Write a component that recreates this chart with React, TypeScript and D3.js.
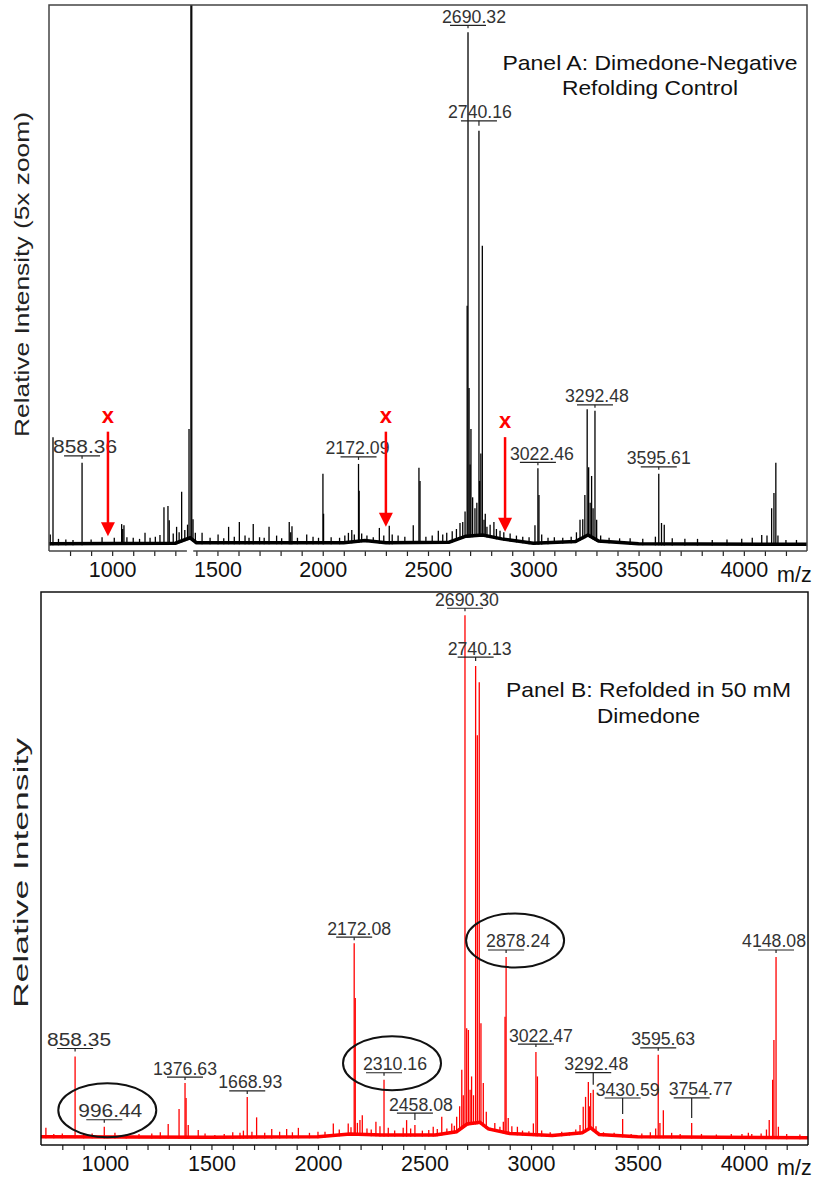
import React, { useEffect, useRef } from 'react';
import * as d3 from 'd3';

const W = 817;
const H = 1181;

// shared m/z range and axis labels
const mzDomain = [700, 4300];
const tickLabels = [1000, 1500, 2000, 2500, 3000, 3500, 4000];

// Panel A (black, 5x zoom): [m/z, relative intensity]
const peaksA = [
  [706, 3.2], [719, 21], [745, 2.4], [780, 2.3], [814, 2.2], [857, 16.3], [900, 2.3], [952, 2.7],
  [1010, 2.6], [1045, 5.1], [1050, 4.2], [1056, 4.9], [1070, 2.7], [1100, 2.6], [1130, 2.4],
  [1156, 3.5], [1180, 2.6], [1205, 2.8], [1227, 3.1], [1246, 8.2], [1265, 8.4], [1271, 5.8],
  [1290, 3.4], [1306, 4.6], [1318, 3.6], [1330, 11], [1345, 4], [1358, 5], [1365, 22.5],
  [1374, 130], [1378, 130], [1384, 6], [1395, 3.5], [1427, 3.5], [1465, 2.6], [1503, 3.2],
  [1530, 2.5], [1553, 4.6], [1580, 2.8], [1604, 5.5], [1631, 3], [1650, 2.6], [1670, 5.1],
  [1700, 2.7], [1722, 2.6], [1745, 4.6], [1781, 3], [1805, 2.5], [1841, 5.5], [1848, 3.6],
  [1854, 4.7], [1880, 2.6], [1924, 3.2], [1954, 2.8], [1980, 2.6], [2001, 14.3], [2004, 7],
  [2040, 2.7], [2080, 2.6], [2105, 3], [2122, 3.5], [2138, 4], [2150, 3.2], [2170, 16.1],
  [2173, 11.2], [2185, 3.4], [2210, 3], [2240, 2.7], [2269, 4.4], [2290, 3], [2316, 4.8],
  [2330, 3.2], [2358, 3], [2390, 2.8], [2430, 4.9], [2457, 15.4], [2462, 13], [2490, 2.8],
  [2520, 3], [2549, 3.9], [2570, 3.2], [2589, 3.5], [2615, 3.8], [2635, 4.2], [2652, 5.3],
  [2665, 5.5], [2676, 7.4], [2686, 45], [2690, 95], [2695, 30], [2700, 16], [2704, 22.5],
  [2712, 10], [2723, 8], [2732, 9], [2742, 77], [2745, 13], [2751, 18], [2758, 56],
  [2766, 5.9], [2772, 7], [2780, 4.6], [2795, 5], [2813, 5.5], [2825, 4.2], [2842, 3.9],
  [2860, 3.6], [2890, 3.4], [2920, 3], [2950, 2.8], [2980, 2.7], [3008, 4.9], [3022, 15.3],
  [3027, 10.4], [3040, 3.2], [3070, 2.6], [3100, 2.7], [3140, 2.6], [3180, 2.8], [3205, 3.6],
  [3222, 5.9], [3235, 6], [3245, 10.4], [3256, 26.1], [3263, 15.5], [3270, 9], [3277, 13.9],
  [3284, 8], [3293, 25.8], [3301, 5.9], [3320, 3], [3360, 2.6], [3410, 2.5], [3460, 2.5],
  [3520, 2.4], [3580, 2.8], [3596, 14.3], [3609, 5.3], [3622, 5], [3660, 2.5], [3720, 2.4],
  [3780, 2.4], [3850, 2.2], [3920, 2.3], [3990, 2.4], [4040, 2.6], [4085, 3.1], [4110, 3],
  [4132, 8], [4143, 10.8], [4152, 16.3], [4162, 3], [4200, 2.2], [4250, 2.2],
];
const baselineA = [
  [700, 1.5], [1300, 1.6], [1370, 2.6], [1400, 1.7], [2100, 1.7], [2200, 2.1], [2300, 1.7],
  [2600, 1.8], [2680, 2.9], [2760, 3.1], [2850, 2.4], [3000, 1.6], [3200, 1.9], [3260, 3.1],
  [3310, 2], [3500, 1.5], [4300, 1.4],
];
const labelTextA = ['858.36', '2172.09', '2690.32', '2740.16', '3022.46', '3292.48', '3595.61'];
const labelMzA = [857, 2170, 2690, 2742, 3022, 3293, 3596];
// red arrows marking missing masses
const arrowMzA = [980, 2300, 2866];
const arrowTipA = [2.9, 4.6, 3.7];
const arrowTopA = [22, 22, 21];

// Panel B (red, 50 mM dimedone)
const peaksB = [
  [723, 3.1], [760, 2], [800, 2.1], [860, 16], [900, 2], [940, 2.1], [997, 3.3], [1047, 2.2],
  [1100, 1.9], [1160, 2], [1220, 2.1], [1260, 2.3], [1297, 3.8], [1348, 6.5], [1376, 11.2],
  [1381, 8.5], [1391, 3.6], [1438, 2.7], [1470, 2.1], [1516, 1.8], [1560, 2], [1600, 2.3],
  [1634, 2.2], [1650, 2.6], [1668, 8.7], [1690, 2.4], [1712, 5], [1750, 2.2], [1783, 2.9],
  [1820, 2.4], [1853, 2.9], [1880, 2.3], [1908, 3.1], [1960, 2.2], [2000, 2.4], [2033, 2.4],
  [2072, 3.9], [2100, 2.8], [2142, 3.9], [2155, 3.2], [2170, 36.5], [2175, 26.6], [2185, 4],
  [2197, 4.5], [2208, 5.4], [2230, 3], [2250, 2.8], [2272, 4.2], [2291, 3.4], [2310, 11.8],
  [2330, 3.1], [2360, 2.6], [2400, 3.1], [2416, 4.5], [2435, 3], [2455, 3.6], [2490, 2.6],
  [2520, 2.7], [2541, 3.3], [2560, 2.9], [2581, 5.1], [2605, 3], [2628, 3.9], [2640, 3.5],
  [2651, 5.1], [2665, 7], [2675, 13.6], [2682, 9], [2690, 95.8], [2698, 21.1], [2706, 20.8],
  [2714, 10], [2721, 12.4], [2730, 9], [2740, 86.6], [2748, 74.1], [2757, 83.7], [2765, 22],
  [2776, 11.2], [2790, 6], [2807, 3.1], [2830, 4], [2854, 3.3], [2870, 4.2], [2878, 23.2],
  [2883, 34], [2893, 4.9], [2910, 3.4], [2936, 3.3], [2960, 2.6], [2990, 2.5], [3011, 3.9],
  [3023, 16.8], [3030, 12.4], [3050, 2.6], [3090, 2.3], [3144, 2.4], [3180, 2.3], [3210, 2.8],
  [3230, 3.6], [3245, 6.9], [3256, 8.7], [3269, 11.4], [3275, 7], [3280, 9.4], [3292, 10],
  [3305, 3.4], [3340, 2.3], [3390, 2.2], [3430, 4.7], [3470, 2], [3520, 2.1], [3560, 2.3],
  [3585, 3], [3597, 16.3], [3605, 4], [3621, 6.3], [3660, 2.2], [3700, 2], [3754, 4],
  [3800, 2], [3870, 1.9], [3940, 2], [3990, 2], [4020, 2.2], [4036, 2], [4080, 2.1],
  [4105, 2.8], [4118, 4.5], [4134, 11.8], [4140, 19], [4150, 34], [4161, 3.3], [4200, 2],
  [4262, 1.9],
];
const baselineB = [
  [700, 1.5], [1500, 1.4], [2000, 1.5], [2150, 2.0], [2300, 1.8], [2550, 1.8], [2650, 2.4],
  [2700, 3.8], [2760, 4.1], [2800, 2.9], [2900, 2.1], [3100, 1.7], [3240, 2.2], [3280, 3.1],
  [3320, 1.9], [3500, 1.5], [4300, 1.3],
];
const labelTextB = [
  '858.35', '996.44', '1376.63', '1668.93', '2172.08', '2310.16', '2458.08', '2690.30',
  '2740.13', '2878.24', '3022.47', '3292.48', '3430.59', '3595.63', '3754.77', '4148.08',
];
const labelMzB = [860, 997, 1376, 1668, 2170, 2310, 2455, 2690, 2740, 2883, 3023, 3292, 3430, 3597, 3754, 4150];
const circledB = ['996.44', '2310.16', '2878.24'];

// label placement: [gap above peak top (px), horizontal text shift (px)]
const labelNudgeA = [[7, 3], [7, -1], [7, 6], [10, 1], [6, 4], [6, 2], [7, 0]];
const labelNudgeB = [
  [8, 4], [7, 6], [6, 0], [6, 3], [6, 5], [7, 11], [12, 6], [7, 2],
  [9, 4], [7, 12], [8, 5], [17, 3], [21, 5], [7, 5], [25, 9], [7, -2],
];

const FONT = '"Liberation Sans", Arial, Helvetica, sans-serif';

const panels = [
  {
    id: 'A', left: 49, right: 807, top: 5, bottom: 551, zero: 552, color: '#000', frame: '#444',
    peaks: peaksA, baseline: baselineA, labels: labelTextA, labelMz: labelMzA, nudge: labelNudgeA,
    axisBreak: [1355, 1385], mzBase: 582,
    title: [['Panel A: Dimedone-Negative', 70, 295], ['Refolding Control', 95, 176]], titleX: 650,
    yLabel: 'Relative Intensity (5x zoom)', yLabelX: 29, yLabelY: 274.5, yLabelLen: 325,
  },
  {
    id: 'B', left: 41, right: 808, top: 592, bottom: 1145, zero: 1145, color: '#ff0000', frame: '#111',
    peaks: peaksB, baseline: baselineB, labels: labelTextB, labelMz: labelMzB, nudge: labelNudgeB,
    axisBreak: null, mzBase: 1175,
    title: [['Panel B: Refolded in 50 mM', 697, 285], ['Dimedone', 723, 103]], titleX: 648.5,
    yLabel: 'Relative Intensity', yLabelX: 28, yLabelY: 873, yLabelLen: 270,
  },
];

function drawPanel(svg, p) {
  const x = d3.scaleLinear().domain(mzDomain).range([p.left, p.right]);
  const y = d3.scaleLinear().domain([0, 100]).range([p.zero, p.top]);
  const base = d3.scaleLinear()
    .domain(p.baseline.map(d => d[0]))
    .range(p.baseline.map(d => d[1]))
    .clamp(true);

  const clipId = 'clip' + p.id;
  svg.append('clipPath').attr('id', clipId)
    .append('rect')
    .attr('x', p.left).attr('y', p.top)
    .attr('width', p.right - p.left).attr('height', p.bottom - p.top - 2);

  const plot = svg.append('g').attr('clip-path', `url(#${clipId})`);

  // noise band
  plot.append('path')
    .datum(p.baseline)
    .attr('d', d3.line().x(d => x(d[0])).y(d => y(d[1])))
    .attr('fill', 'none')
    .attr('stroke', p.color)
    .attr('stroke-width', 3.5);

  // peaks
  plot.selectAll('line.peak')
    .data(p.peaks)
    .enter().append('line')
    .attr('class', 'peak')
    .attr('x1', d => x(d[0])).attr('x2', d => x(d[0]))
    .attr('y1', d => y(base(d[0])) + 1.5).attr('y2', d => y(d[1]))
    .attr('stroke', p.color)
    .attr('stroke-width', 1.3);

  // frame (left, top, right)
  svg.append('path')
    .attr('d', `M${p.left},${p.bottom}V${p.top}H${p.right}V${p.bottom}`)
    .attr('fill', 'none')
    .attr('stroke', p.frame)
    .attr('stroke-width', 1.5);

  // bottom axis
  const minor = x.ticks(36).filter(t => t > mzDomain[0] && t < mzDomain[1]);
  const axis = svg.append('g')
    .attr('transform', `translate(0,${p.bottom})`)
    .call(d3.axisBottom(x).tickValues(minor).tickSize(5).tickSizeOuter(0).tickPadding(6)
      .tickFormat(d => (tickLabels.includes(d) ? String(d) : '')));
  axis.select('.domain').remove();
  axis.selectAll('line').attr('stroke', '#222').attr('stroke-width', 1.2);
  axis.selectAll('text')
    .attr('font-family', FONT).attr('font-size', 21.5).attr('fill', '#111');

  const segs = p.axisBreak
    ? [[mzDomain[0], p.axisBreak[0]], [p.axisBreak[1], mzDomain[1]]]
    : [mzDomain];
  segs.forEach(s => {
    svg.append('line')
      .attr('x1', x(s[0])).attr('x2', x(s[1]))
      .attr('y1', p.bottom).attr('y2', p.bottom)
      .attr('stroke', p.frame).attr('stroke-width', 1.5);
  });

  svg.append('text')
    .attr('x', 777).attr('y', p.mzBase)
    .attr('font-family', FONT).attr('font-size', 21.5).attr('fill', '#111')
    .text('m/z');

  // y label
  svg.append('text')
    .attr('transform', `translate(${p.yLabelX},${p.yLabelY}) rotate(-90)`)
    .attr('text-anchor', 'middle')
    .attr('font-family', FONT).attr('font-size', 20.5).attr('fill', '#222')
    .attr('textLength', p.yLabelLen).attr('lengthAdjust', 'spacingAndGlyphs')
    .text(p.yLabel);

  // title
  p.title.forEach(([t, by, len]) => {
    svg.append('text')
      .attr('x', p.titleX).attr('y', by)
      .attr('text-anchor', 'middle')
      .attr('font-family', FONT).attr('font-size', 21).attr('fill', '#111')
      .attr('textLength', len).attr('lengthAdjust', 'spacingAndGlyphs')
      .text(t);
  });

  // peak labels
  p.labels.forEach((t, i) => {
    const mz = p.labelMz[i];
    const pk = p.peaks.reduce((b, d) => (Math.abs(d[0] - mz) < Math.abs(b[0] - mz) ? d : b));
    const px = x(mz);
    const top = y(pk[1]);
    const [gap, dx] = p.nudge[i];
    const uy = top - gap;
    const lg = svg.append('g').attr('class', 'peak-label');
    lg.append('line')
      .attr('x1', px - 18).attr('x2', px + 18).attr('y1', uy).attr('y2', uy)
      .attr('stroke', '#222').attr('stroke-width', 1.2);
    lg.append('line')
      .attr('x1', px).attr('x2', px).attr('y1', uy).attr('y2', uy + Math.max(3, gap - 5))
      .attr('stroke', '#222').attr('stroke-width', 1.2);
    lg.append('text')
      .attr('x', px + dx).attr('y', uy - 2.5)
      .attr('text-anchor', 'middle')
      .attr('font-family', FONT).attr('font-size', 18).attr('fill', '#333')
      .attr('textLength', 64).attr('lengthAdjust', 'spacingAndGlyphs')
      .text(t);
    if (circledB.includes(t) && p.id === 'B') {
      lg.append('ellipse')
        .attr('cx', px + dx - 3).attr('cy', uy - 9.5)
        .attr('rx', 49).attr('ry', 27)
        .attr('fill', 'none').attr('stroke', '#111').attr('stroke-width', 2);
    }
  });

  // red arrows (panel A)
  if (p.id === 'A') {
    arrowMzA.forEach((mz, i) => {
      const ax = x(mz);
      const tip = y(arrowTipA[i]);
      const topY = y(arrowTopA[i]);
      svg.append('line')
        .attr('x1', ax).attr('x2', ax).attr('y1', topY).attr('y2', tip - 12)
        .attr('stroke', '#ff0000').attr('stroke-width', 2.5);
      svg.append('path')
        .attr('d', `M${ax - 7},${tip - 14}L${ax + 7},${tip - 14}L${ax},${tip}Z`)
        .attr('fill', '#ff0000');
      svg.append('text')
        .attr('x', ax).attr('y', topY - 9)
        .attr('text-anchor', 'middle')
        .attr('font-family', FONT).attr('font-size', 22).attr('font-weight', 'bold')
        .attr('fill', '#ff0000')
        .text('x');
    });
  }
}

const App = () => {
  const svgRef = useRef(null);

  useEffect(() => {
    const svg = d3.select(svgRef.current);
    svg.selectAll('*').remove();
    svg.append('rect').attr('width', W).attr('height', H).attr('fill', '#fff');
    panels.forEach(p => drawPanel(svg, p));
  }, []);

  return (
    <svg
      ref={svgRef}
      width={W}
      height={H}
      style={{ position: 'absolute', left: 0, top: 0, background: '#fff' }}
    />
  );
};

export default App;
